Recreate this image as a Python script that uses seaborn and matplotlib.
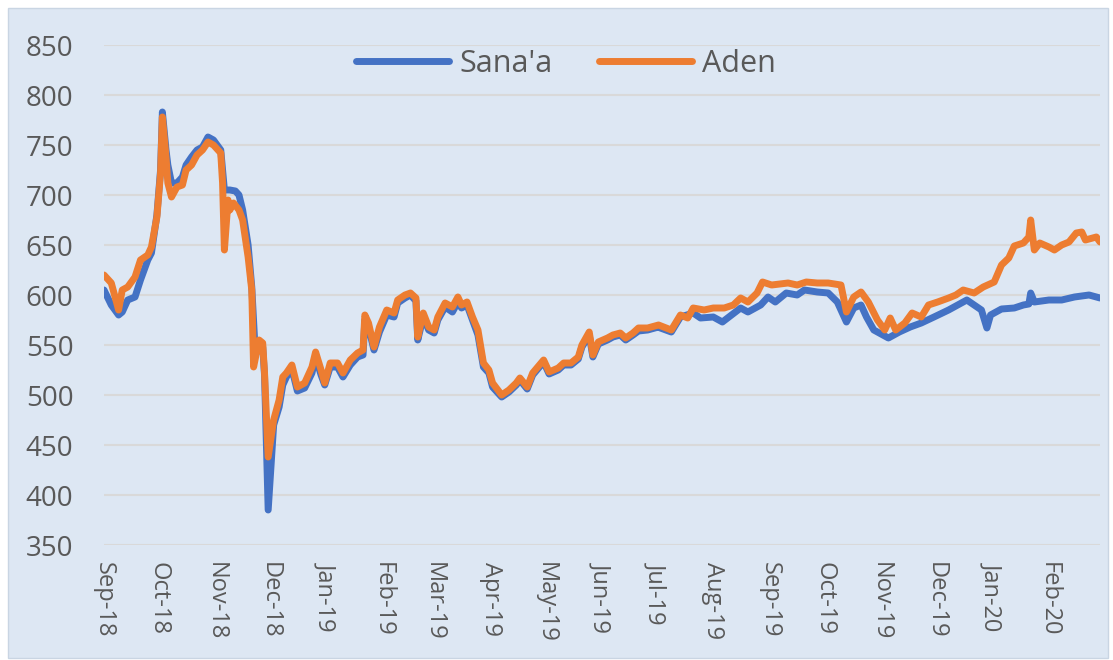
import pandas as pd
import seaborn as sns
import matplotlib.pyplot as plt
import matplotlib.dates as mdates
from matplotlib.patches import Rectangle

start = pd.Timestamp('2018-09-01')
end = pd.Timestamp('2020-02-29')

# days since 1 Sep 2018
sanaa_day = [0, 4, 8, 10, 13, 17, 20, 24, 26, 29, 31, 32, 34, 35, 37, 40, 43, 45, 48, 51,
             54, 57, 60, 64, 65, 66, 69, 72, 74, 76, 79, 81, 83, 85, 87, 88, 90, 93, 96, 98,
             100, 103, 106, 110, 114, 116, 119, 121, 124, 128, 131, 135, 139, 142, 143, 145, 148, 151, 155, 159,
             161, 165, 168, 171, 172, 175, 178, 181, 183, 187, 191, 194, 196, 199, 202, 205, 208, 211, 213, 218,
             222, 226, 228, 232, 235, 241, 244, 249, 252, 256, 260, 262, 266, 268, 271, 276, 279, 283, 286, 290,
             293, 298, 304, 305, 311, 316, 323, 327, 334, 339, 344, 349, 353, 360, 364, 368, 374, 380, 384, 391,
             397, 402, 407, 411, 415, 418, 422, 430, 436, 442, 448, 455, 463, 468, 473, 477, 481, 484, 486, 492,
             499, 504, 507, 508, 510, 518, 525, 532, 540, 546]
sanaa_rate = [605, 590, 580, 583, 595, 598, 615, 635, 642, 680, 725, 783, 745, 730, 712, 712, 718, 730, 738, 745,
              748, 758, 755, 745, 725, 705, 705, 704, 700, 685, 650, 608, 540, 550, 548, 520, 385, 470, 488, 510,
              518, 526, 504, 507, 522, 538, 520, 510, 528, 528, 518, 530, 538, 540, 575, 568, 545, 563, 580, 578,
              592, 597, 600, 594, 555, 578, 565, 562, 575, 588, 583, 593, 587, 590, 575, 560, 528, 522, 508, 498,
              503, 510, 515, 506, 520, 533, 521, 525, 530, 530, 536, 548, 560, 538, 551, 555, 558, 560, 555, 560,
              564, 565, 568, 567, 563, 578, 582, 577, 578, 573, 580, 587, 583, 590, 598, 593, 602, 600, 605, 603,
              602, 593, 573, 587, 590, 578, 565, 557, 563, 568, 572, 578, 585, 590, 595, 590, 585, 567, 580, 586,
              587, 590, 591, 602, 593, 595, 595, 598, 600, 597]

aden_day = [0, 4, 8, 10, 13, 17, 20, 24, 26, 29, 31, 32, 34, 35, 37, 40, 43, 45, 48, 51,
            54, 57, 60, 64, 65, 66, 68, 69, 71, 74, 76, 79, 81, 82, 85, 87, 88, 90, 93, 96,
            98, 100, 103, 106, 110, 114, 116, 119, 121, 124, 128, 131, 135, 139, 142, 143, 145, 148, 151, 155,
            159, 161, 165, 168, 171, 172, 175, 178, 181, 183, 187, 191, 194, 196, 199, 202, 205, 208, 211, 213,
            218, 222, 226, 228, 232, 235, 241, 244, 249, 252, 256, 260, 262, 266, 268, 271, 276, 279, 283, 286,
            290, 293, 298, 304, 311, 316, 320, 323, 329, 334, 340, 345, 349, 353, 358, 361, 366, 375, 380, 385,
            391, 397, 404, 407, 411, 415, 419, 424, 428, 431, 434, 439, 443, 448, 452, 457, 463, 467, 471, 477,
            482, 488, 492, 496, 499, 504, 507, 508, 510, 513, 518, 521, 525, 529, 533, 536, 538, 544, 546]
aden_rate = [620, 612, 585, 605, 608, 618, 635, 640, 648, 678, 722, 778, 738, 712, 698, 708, 710, 725, 730, 740,
             745, 753, 750, 742, 712, 645, 695, 685, 692, 685, 675, 638, 605, 528, 555, 552, 522, 438, 475, 495,
             518, 522, 530, 508, 512, 528, 543, 525, 512, 532, 532, 522, 535, 542, 545, 580, 572, 548, 568, 585,
             582, 595, 600, 602, 597, 558, 582, 568, 565, 578, 592, 588, 598, 590, 593, 578, 565, 532, 525, 512,
             500, 505, 512, 517, 508, 522, 535, 523, 527, 532, 532, 538, 550, 563, 540, 553, 557, 560, 562, 557,
             562, 567, 567, 570, 565, 580, 577, 587, 585, 587, 587, 590, 597, 593, 602, 613, 610, 612, 610, 613,
             612, 612, 610, 583, 598, 603, 593, 575, 565, 577, 565, 572, 582, 578, 590, 593, 597, 600, 605, 602,
             608, 613, 630, 637, 649, 652, 658, 675, 645, 652, 648, 645, 650, 653, 662, 663, 655, 658, 653]

series = ["Sana'a", "Aden"]
colors = ['#4472c4', '#ed7d31']

df = pd.concat([
    pd.DataFrame({'date': start + pd.to_timedelta(sanaa_day, unit='D'), 'rate': sanaa_rate, 'market': series[0]}),
    pd.DataFrame({'date': start + pd.to_timedelta(aden_day, unit='D'), 'rate': aden_rate, 'market': series[1]}),
], ignore_index=True)

sns.set_theme(style='white')
plt.rcParams['font.family'] = ['Open Sans', 'DejaVu Sans']

W, H = 1113, 660
fig = plt.figure(figsize=(W / 100, H / 100), dpi=100)
fig.patch.set_facecolor('white')
panel = Rectangle((8 / W, 2 / H), 1100 / W, 650 / H, transform=fig.transFigure,
                  facecolor='#dde7f3', edgecolor='#c9d5e3', lw=1, zorder=-10)
fig.add_artist(panel)

ax = fig.add_axes([104 / W, 115 / H, 996 / W, 500 / H])
ax.set_facecolor('none')
ax.set_zorder(5)

sns.lineplot(data=df, x='date', y='rate', hue='market', hue_order=series,
             palette=dict(zip(series, colors)), estimator=None, linewidth=5,
             solid_joinstyle='round', solid_capstyle='round', ax=ax)

ax.set_ylim(350, 850)
ax.set_yticks(range(350, 851, 50))
ax.set_xlim(start, end)
ax.xaxis.set_major_locator(mdates.MonthLocator())
ax.xaxis.set_major_formatter(mdates.DateFormatter('%b-%y'))
ax.set_xlabel('')
ax.set_ylabel('')

ax.set_axisbelow(True)
ax.grid(axis='y', color='#d9d9d9', lw=1.5)
ax.grid(axis='x', visible=False)
for s in ax.spines.values():
    s.set_visible(False)
ax.tick_params(axis='y', length=0, pad=22, labelsize=20, labelcolor='#595959')
ax.tick_params(axis='x', length=0, pad=12, labelsize=17, labelcolor='#595959')
for lab in ax.get_xticklabels():
    lab.set_rotation(-90)
    lab.set_ha('center')
    lab.set_va('top')

handles, labels = ax.get_legend_handles_labels()
ax.legend(handles, labels, loc='center', bbox_to_anchor=(566 / W, 1 - 64 / H),
          bbox_transform=fig.transFigure, ncol=2, frameon=False, fontsize=22,
          handlelength=3.05, handletextpad=0.33, columnspacing=1.5, labelcolor='#595959')

fig.savefig('out.png', dpi=100)
